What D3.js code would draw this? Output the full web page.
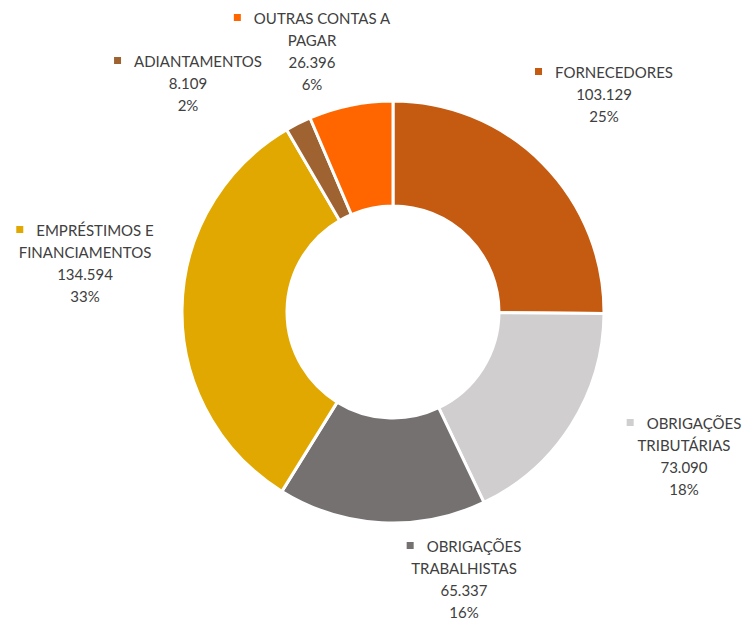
<!DOCTYPE html>
<html>
<head>
<meta charset="utf-8">
<script src="https://cdn.jsdelivr.net/npm/d3@7"></script>
<style>
  body { margin: 0; background: #fff; }
  text { font-family: Lato, "Open Sans", sans-serif; fill: #404040; }
</style>
</head>
<body>
<div id="donutChart"></div>
<script>
// data
var categories = [
  "FORNECEDORES",
  "OBRIGAÇÕES TRIBUTÁRIAS",
  "OBRIGAÇÕES TRABALHISTAS",
  "EMPRÉSTIMOS E FINANCIAMENTOS",
  "ADIANTAMENTOS",
  "OUTRAS CONTAS A PAGAR"
];
var values = [103129, 73090, 65337, 134594, 8109, 26396];
var colors = ["#C55A11", "#D0CECE", "#767171", "#E0A800", "#9E6331", "#FF6600"];

// label lines as they are wrapped in the picture
var labelLines = [
  ["FORNECEDORES"],
  ["OBRIGAÇÕES", "TRIBUTÁRIAS"],
  ["OBRIGAÇÕES", "TRABALHISTAS"],
  ["EMPRÉSTIMOS E", "FINANCIAMENTOS"],
  ["ADIANTAMENTOS"],
  ["OUTRAS CONTAS A", "PAGAR"]
];
// where each label block sits (centre x, first baseline y)
var labelPos = [
  [604, 78], [684, 429], [464, 552], [85, 236], [188, 67], [312, 24]
];

var width = 744, height = 622;
var cx = 393, cy = 312, outerR = 211, innerR = 106;
var lineH = 22;

var svg = d3.select("#donutChart")
  .append("svg")
  .attr("width", width)
  .attr("height", height);

var total = d3.sum(values);
var fmt = d3.formatLocale({ decimal: ",", thousands: ".", grouping: [3], currency: ["R$", ""] }).format(",d");

var pie = d3.pie().sort(null).value(function (d) { return d; });
var arc = d3.arc().innerRadius(innerR).outerRadius(outerR);

var g = svg.append("g").attr("transform", "translate(" + cx + "," + cy + ")");

g.selectAll("path")
  .data(pie(values))
  .enter()
  .append("path")
  .attr("d", arc)
  .style("fill", function (d, i) { return colors[i]; })
  .style("stroke", "#fff")
  .style("stroke-width", 3);

// labels
categories.forEach(function (c, i) {
  var lines = labelLines[i].concat([fmt(values[i]), Math.round(values[i] / total * 100) + "%"]);
  var lx = labelPos[i][0], ly = labelPos[i][1];
  var lab = svg.append("g").attr("class", "label");

  lines.forEach(function (t, j) {
    var txt = lab.append("text")
      .attr("x", lx)
      .attr("y", ly + j * lineH)
      .attr("text-anchor", "middle")
      .style("font-size", "15px")
      .text(t);
    if (j === 0) {
      // legend key goes in front of the first line, whole line centred
      var w = txt.node().getComputedTextLength();
      var key = 7, gap = 13;
      var full = key + gap + w;
      var start = lx - full / 2;
      txt.attr("text-anchor", "start").attr("x", start + key + gap);
      lab.append("rect")
        .attr("x", start)
        .attr("y", ly - 10)
        .attr("width", key)
        .attr("height", key)
        .style("fill", colors[i]);
    }
  });
});
</script>
</body>
</html>
